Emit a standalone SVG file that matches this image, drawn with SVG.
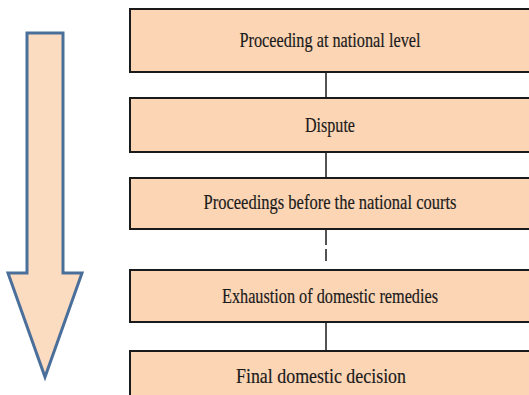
<svg xmlns="http://www.w3.org/2000/svg" width="529" height="395" viewBox="0 0 529 395">
  <style>
    .box { fill: #fcd5b5; stroke: #1a1a1a; stroke-width: 2; }
    .label { font-family: "Liberation Serif", "DejaVu Serif", serif; font-size: 22px; fill: #1a1a1a; stroke: #1a1a1a; stroke-width: 0.2; text-anchor: middle; }
    .link { stroke: #1a1a1a; stroke-width: 1.5; fill: none; }
  </style>
  <rect width="529" height="395" fill="#ffffff"/>

  <!-- big downward arrow -->
  <g id="timeline-arrow">
    <path d="M27,33 L63,33 L63,273 L82,273 L45,377 L8,273 L27,273 Z" fill="#fcdcc0" stroke="#4a6f9b" stroke-width="3" stroke-linejoin="miter"/>
  </g>

  <!-- connectors -->
  <g id="connectors">
    <line class="link" x1="326" y1="72" x2="326" y2="98"/>
    <line class="link" x1="326" y1="152" x2="326" y2="178"/>
    <line class="link" x1="326" y1="229" x2="326" y2="245"/>
    <line class="link" x1="326" y1="249" x2="326" y2="261"/>
    <line class="link" x1="326" y1="322" x2="326" y2="351"/>
  </g>

  <g id="node-national-level">
    <rect class="box" x="130" y="9" width="402" height="63"/>
    <text class="label" x="330" y="47" textLength="181" lengthAdjust="spacingAndGlyphs">Proceeding at national level</text>
  </g>
  <g id="node-dispute">
    <rect class="box" x="130" y="98" width="402" height="54"/>
    <text class="label" x="330" y="132" textLength="50" lengthAdjust="spacingAndGlyphs">Dispute</text>
  </g>
  <g id="node-national-courts">
    <rect class="box" x="130" y="178" width="402" height="51"/>
    <text class="label" x="330" y="209" textLength="253" lengthAdjust="spacingAndGlyphs">Proceedings before the national courts</text>
  </g>
  <g id="node-exhaustion">
    <rect class="box" x="130" y="270" width="402" height="52"/>
    <text class="label" x="330" y="303" textLength="216" lengthAdjust="spacingAndGlyphs">Exhaustion of domestic remedies</text>
  </g>
  <g id="node-final-decision">
    <rect class="box" x="130" y="351" width="402" height="52"/>
    <text class="label" x="321" y="383" textLength="170" lengthAdjust="spacingAndGlyphs">Final domestic decision</text>
  </g>
</svg>
